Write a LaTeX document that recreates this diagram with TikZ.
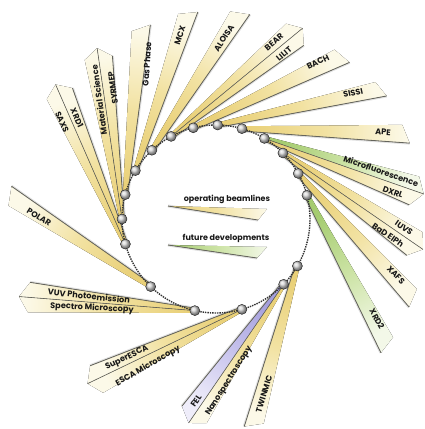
\documentclass[tikz,border=0pt]{standalone}
\usepackage{fontspec}
\setmainfont{Poppins}
\usetikzlibrary{calc}
\definecolor{yelN}{RGB}{233,208,120}
\definecolor{yelM}{RGB}{242,226,162}
\definecolor{yelF}{RGB}{252,249,232}
\definecolor{grnN}{RGB}{165,204,112}
\definecolor{grnM}{RGB}{204,227,165}
\definecolor{grnF}{RGB}{243,248,232}
\definecolor{purN}{RGB}{164,158,220}
\definecolor{purM}{RGB}{200,196,237}
\definecolor{purF}{RGB}{239,237,250}
\definecolor{edgec}{RGB}{100,100,92}
\definecolor{txt}{RGB}{25,25,25}
\tikzset{
  lbl/.style={font=\fontsize{8.2}{9}\selectfont\bfseries, text=txt, inner sep=0pt},
  legtxt/.style={font=\fontsize{8}{9}\selectfont\bfseries, text=txt, inner sep=0pt},
  ballnode/.style={circle, minimum size=10pt, inner sep=0pt, shading=ball, ball color=gray!35, draw=gray!30!black, line width=0.45pt},
  ringline/.style={densely dotted, line width=1.4pt, draw=gray!40!black},
  edgeline/.style={draw=edgec, line width=0.8pt},
  edgeshadow/.style={draw=black, opacity=0.12, line width=3pt},
}
% coordinates of one beam: name, node angle, end point, half width
\newcommand{\bmcoords}[4]{%
  \coordinate (#1-s) at ($(C)+(-#2:94)$);
  \coordinate (#1-e) at #3;
  \coordinate (#1-sl) at ($(#1-s)!2.4pt!90:(#1-e)$);
  \coordinate (#1-sr) at ($(#1-s)!2.4pt!-90:(#1-e)$);
  \coordinate (#1-t) at ($(#1-e)!-6pt!(#1-s)$);
  \coordinate (#1-f) at ($(#1-e)!-4pt!(#1-s)$);
  \coordinate (#1-g) at ($(#1-e)!4pt!(#1-s)$);
  \coordinate (#1-rf) at ($(#1-f)!#4pt!90:(#1-s)$);
  \coordinate (#1-r) at ($(#1-g)!#4pt!90:(#1-s)$);
  \coordinate (#1-l) at ($(#1-g)!#4pt!-90:(#1-s)$);
}
% single banner: name, near, mid, far colour, shading angle
\newcommand{\bmsingle}[5]{%
  \draw[edgeshadow] (#1-sr) -- (#1-rf);
  \fill[bottom color=#2, top color=#4, middle color=#3, shading angle=#5] (#1-sl) -- (#1-sr) -- (#1-rf) -- (#1-l) -- cycle;
  \draw[edgeline] (#1-sr) -- (#1-rf);
}
% double banner: name, left near/mid/far, right near/mid/far, shading angle
\newcommand{\bmdouble}[8]{%
  \draw[edgeshadow] (#1-sr) -- (#1-r);
  \fill[bottom color=#2, top color=#4, middle color=#3, shading angle=#8] (#1-sl) -- (#1-s) -- (#1-t) -- (#1-l) -- cycle;
  \fill[bottom color=#5, top color=#7, middle color=#6, shading angle=#8] (#1-s) -- (#1-sr) -- (#1-r) -- (#1-t) -- cycle;
  \draw[edgeline] (#1-sr) -- (#1-r);
  \draw[edgeline, line width=0.6pt] (#1-s) -- (#1-t);
}
\begin{document}
\begin{tikzpicture}[x=1pt, y=-1pt]
\useasboundingbox (0,0) rectangle (425,429);
\fill[white] (0,0) rectangle (425,429);
\coordinate (C) at (216,219);
% beam geometry
\bmcoords{ape}{74}{(406,134)}{9}
\bmcoords{sissi}{89}{(381,89)}{8}
\bmcoords{bach}{104}{(342,56)}{9}
\bmcoords{bear}{118.5}{(298,32)}{14}
\bmcoords{aloisa}{133}{(240,13)}{9}
\bmcoords{mcx}{149}{(188,13)}{9}
\bmcoords{gas}{165}{(141,28)}{9}
\bmcoords{mat}{180}{(98,54)}{14}
\bmcoords{saxs}{195.5}{(58,90)}{14}
\bmcoords{polar}{226}{(10,196)}{9}
\bmcoords{vuv}{257}{(25,297)}{15}
\bmcoords{esca}{286}{(93,381)}{15}
\bmcoords{fel}{316}{(192,418)}{15}
\bmcoords{twin}{330}{(254,425)}{9}
\bmcoords{xrdtwo}{14.6}{(387,345)}{9}
\bmcoords{xafs}{29}{(413,298)}{9}
\bmcoords{iuvs}{44.6}{(418,246)}{14}
\bmcoords{micro}{59}{(418,192)}{15}
% banners
\bmsingle{ape}{yelN}{yelM}{yelF}{-92}
\bmsingle{sissi}{yelN}{yelM}{yelF}{-78}
\bmsingle{bach}{yelN}{yelM}{yelF}{-64}
\bmdouble{bear}{yelN}{yelM}{yelF}{yelN}{yelM}{yelF}{-51}
\bmsingle{aloisa}{yelN}{yelM}{yelF}{-33}
\bmsingle{mcx}{yelN}{yelM}{yelF}{-18}
\bmsingle{gas}{yelN}{yelM}{yelF}{-6}
\bmdouble{mat}{yelN}{yelM}{yelF}{yelN}{yelM}{yelF}{8}
\bmdouble{saxs}{yelN}{yelM}{yelF}{yelN}{yelM}{yelF}{24}
\bmsingle{polar}{yelN}{yelM}{yelF}{57}
\bmdouble{vuv}{yelN}{yelM}{yelF}{yelN}{yelM}{yelF}{85}
\bmdouble{esca}{yelN}{yelM}{yelF}{yelN}{yelM}{yelF}{116}
\bmdouble{fel}{yelN}{yelM}{yelF}{purN}{purM}{purF}{146}
\bmsingle{twin}{yelN}{yelM}{yelF}{165}
\bmsingle{xrdtwo}{grnN}{grnM}{grnF}{-151}
\bmsingle{xafs}{yelN}{yelM}{yelF}{-136}
\bmdouble{iuvs}{yelN}{yelM}{yelF}{yelN}{yelM}{yelF}{-125}
\bmdouble{micro}{grnN}{grnM}{grnF}{yelN}{yelM}{yelF}{-110}
% ring
\draw[ringline] (C) circle[radius=94pt];
% ring nodes
\foreach \b in {ape,sissi,bach,bear,aloisa,mcx,gas,mat,saxs,polar,vuv,esca,fel,twin,xrdtwo,xafs,iuvs,micro}
  \node[ballnode] (n-\b) at (\b-s) {};
% labels
\node[lbl, rotate=-4] (l-ape) at (383,132) {APE};
\node[lbl, rotate=12] (l-sissi) at (353,93) {SISSI};
\node[lbl, rotate=26] (l-bach) at (318,62) {BACH};
\node[lbl, rotate=40] (l-bear) at (274,42) {BEAR};
\node[lbl, rotate=40] (l-lilit) at (284,54) {LILIT};
\node[lbl, rotate=57] (l-aloisa) at (224,38) {ALOISA};
\node[lbl, rotate=72] (l-mcx) at (180,35) {MCX};
\node[lbl, rotate=86] (l-gas) at (147,64) {Gas Phase};
\node[lbl, rotate=98] (l-mat) at (99,100) {Material Science};
\node[lbl, rotate=98] (l-syrmep) at (113,88) {SYRMEP};
\node[lbl, rotate=-66] (l-saxs) at (62,122) {SAXS};
\node[lbl, rotate=-66] (l-xrdone) at (77,118) {XRD1};
\node[lbl, rotate=-32] (l-polar) at (39,217) {POLAR};
\node[lbl, rotate=-6] (l-vuv) at (89,296) {VUV Photoemission};
\node[lbl, rotate=-3] (l-spectro) at (92,308) {Spectro Microscopy};
\node[lbl, rotate=26] (l-superesca) at (127,358) {SuperESCA};
\node[lbl, rotate=30] (l-esca) at (148,366) {ESCA Microscopy};
\node[lbl, rotate=56] (l-fel) at (196,401) {FEL};
\node[lbl, rotate=58] (l-nano) at (229,381) {Nanospectroscopy};
\node[lbl, rotate=73] (l-twin) at (264,394) {TWINMIC};
\node[lbl, rotate=-61] (l-xrdtwo) at (377,319) {XRD2};
\node[lbl, rotate=-46] (l-xafs) at (396,275) {XAFS};
\node[lbl, rotate=-35] (l-iuvs) at (404,228) {IUVS};
\node[lbl, rotate=-35] (l-bad) at (388,235) {BaD ElPh};
\node[lbl, rotate=-19] (l-micro) at (381,171) {Microfluorescence};
\node[lbl, rotate=-20] (l-dxrl) at (393,192) {DXRL};
% legend
\coordinate (op-a) at (168,206);
\coordinate (op-b) at (267,209);
\coordinate (op-c) at (258,220);
\draw[edgeshadow] (op-a) -- (op-c);
\fill[bottom color=yelN, top color=yelF, middle color=yelM, shading angle=-90] (op-a) -- (op-b) -- (op-c) -- cycle;
\draw[edgeline] (op-a) -- (op-c);
\coordinate (fu-a) at (168,245);
\coordinate (fu-b) at (267,247);
\coordinate (fu-c) at (257,258);
\draw[edgeshadow] (fu-a) -- (fu-c);
\fill[bottom color=grnN, top color=grnF, middle color=grnM, shading angle=-90] (fu-a) -- (fu-b) -- (fu-c) -- cycle;
\draw[edgeline] (fu-a) -- (fu-c);
\node[legtxt] (leg-op) at (227,199) {operating beamlines};
\node[legtxt] (leg-fu) at (226,238) {future developments};
\end{tikzpicture}
\end{document}
